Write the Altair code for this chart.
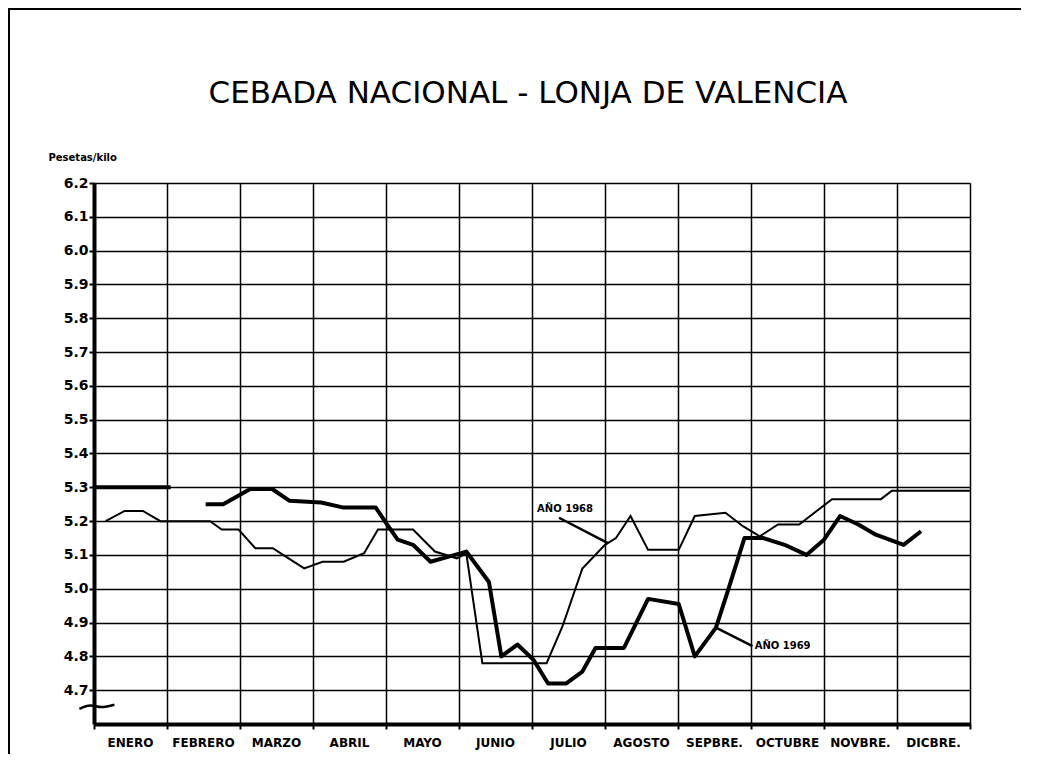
import altair as alt
import pandas as pd

months = ["ENERO", "FEBRERO", "MARZO", "ABRIL", "MAYO", "JUNIO", "JULIO",
          "AGOSTO", "SEPBRE.", "OCTUBRE", "NOVBRE.", "DICBRE."]

# x = position in months (0 = start of January, 12 = end of December)
t_1968 = [0.16, 0.42, 0.67, 0.91, 1.59, 1.75, 1.98, 2.21, 2.45, 2.59, 2.88,
          3.13, 3.42, 3.70, 3.89, 4.37, 4.67, 4.97, 5.10, 5.32, 6.20, 6.42,
          6.69, 7.00, 7.15, 7.35, 7.59, 8.01, 8.23, 8.65, 8.89, 9.12, 9.37,
          9.66, 10.11, 10.78, 10.93, 12.00]
v_1968 = [5.20, 5.23, 5.23, 5.20, 5.20, 5.175, 5.175, 5.12, 5.12, 5.10, 5.06,
          5.08, 5.08, 5.105, 5.175, 5.175, 5.11, 5.09, 5.105, 4.78, 4.78, 4.89,
          5.06, 5.13, 5.15, 5.215, 5.115, 5.115, 5.215, 5.225, 5.185, 5.155, 5.19,
          5.19, 5.265, 5.265, 5.29, 5.29]

t_1969_ene = [0.00, 1.05]
v_1969_ene = [5.30, 5.30]

t_1969 = [1.53, 1.77, 2.14, 2.44, 2.68, 3.11, 3.42, 3.86, 4.00, 4.16, 4.37,
          4.61, 4.86, 5.10, 5.41, 5.58, 5.80, 6.02, 6.22, 6.47, 6.69, 6.87,
          7.26, 7.59, 8.01, 8.23, 8.52, 8.67, 8.91, 9.17, 9.46, 9.76, 10.00,
          10.22, 10.47, 10.71, 11.09, 11.33]
v_1969 = [5.25, 5.25, 5.295, 5.295, 5.26, 5.255, 5.24, 5.24, 5.195, 5.145, 5.13,
          5.08, 5.095, 5.11, 5.02, 4.80, 4.835, 4.79, 4.72, 4.72, 4.755, 4.825,
          4.825, 4.97, 4.955, 4.80, 4.885, 4.985, 5.15, 5.15, 5.13, 5.10, 5.145,
          5.215, 5.19, 5.16, 5.13, 5.17]

y_ticks = [4.7, 4.8, 4.9, 5.0, 5.1, 5.2, 5.3, 5.4, 5.5, 5.6, 5.7, 5.8, 5.9,
           6.0, 6.1, 6.2]
month_bounds = list(range(13))

TITLE = "CEBADA NACIONAL - LONJA DE VALENCIA"
W, H = 876, 541
FONT = "DejaVu Sans"

xs = alt.Scale(domain=[0, 12], nice=False, zero=False)
ys = alt.Scale(domain=[4.6, 6.2], nice=False, zero=False)

x_axis = alt.Axis(values=month_bounds, labels=False, grid=True, gridColor="black",
                  gridWidth=1.5, gridOpacity=1, domainColor="black", domainWidth=4,
                  tickColor="black", tickWidth=2, tickSize=5, title=None)
y_axis = alt.Axis(values=y_ticks, format=".1f", grid=True, gridColor="black",
                  gridWidth=1.5, gridOpacity=1, domainColor="black", domainWidth=4,
                  tickColor="black", tickWidth=2, tickSize=5, labelFont=FONT,
                  labelFontWeight="bold", labelFontSize=14, labelColor="black",
                  labelPadding=1,
                  title="Pesetas/kilo", titleAngle=0, titleAlign="left",
                  titleBaseline="alphabetic", titleX=-46, titleY=-23,
                  titleFont=FONT, titleFontSize=10, titleFontWeight="bold",
                  titleColor="black")

X = alt.X("t:Q", scale=xs, axis=x_axis)
Y = alt.Y("v:Q", scale=ys, axis=y_axis)

df68 = pd.DataFrame({"t": t_1968, "v": v_1968})
df69a = pd.DataFrame({"t": t_1969_ene, "v": v_1969_ene})
df69 = pd.DataFrame({"t": t_1969, "v": v_1969})
dfm = pd.DataFrame({"t": [i + 0.5 for i in range(12)], "m": months})

line68 = alt.Chart(df68).mark_line(color="black", strokeWidth=2).encode(x=X, y=Y)
line69a = alt.Chart(df69a).mark_line(color="black", strokeWidth=4).encode(x=X, y=Y)
line69 = alt.Chart(df69).mark_line(color="black", strokeWidth=4,
                                   strokeJoin="round").encode(x=X, y=Y)

month_text = alt.Chart(dfm).mark_text(font=FONT, fontWeight="bold", fontSize=12,
                                      color="black", baseline="middle").encode(
    x=X, y=alt.value(H + 19), text="m:N")

# annotations
ann = pd.DataFrame({"t": [6.07, 9.05], "v": [5.236, 4.832],
                    "label": ["AÑO 1968", "AÑO 1969"]})
ann_text = alt.Chart(ann).mark_text(font=FONT, fontWeight="bold", fontSize=10,
                                    color="black", align="left",
                                    baseline="middle").encode(
    x=X, y=Y, text="label:N")
ptr = pd.DataFrame({"t": [6.37, 7.04, 8.52, 9.02],
                    "v": [5.21, 5.135, 4.885, 4.83],
                    "g": ["a", "a", "b", "b"]})
ptr_line = alt.Chart(ptr).mark_line(color="black", strokeWidth=2.5).encode(
    x=X, y=Y, detail="g:N")

# axis break squiggle
brk = pd.DataFrame({"t": [-0.20, -0.05, 0.10, 0.28],
                    "v": [4.645, 4.655, 4.650, 4.657]})
brk_line = alt.Chart(brk).mark_line(color="black", strokeWidth=2.5,
                                    interpolate="monotone").encode(x=X, y=Y)

# title as text
title_text = alt.Chart(pd.DataFrame({"s": [TITLE]})).mark_text(
    font=FONT, fontSize=31, color="black", align="center",
    baseline="alphabetic").encode(x=alt.value(W / 2 - 4), y=alt.value(-80),
                                  text="s:N")

# page frame (top and left)
frame_top = alt.Chart(pd.DataFrame({"k": [0]})).mark_rule(
    color="black", strokeWidth=2).encode(
    x=alt.value(-86), x2=alt.value(W + 60), y=alt.value(-174))
frame_left = alt.Chart(pd.DataFrame({"k": [0]})).mark_rule(
    color="black", strokeWidth=2).encode(
    x=alt.value(-85), y=alt.value(-174), y2=alt.value(H + 40))

chart = alt.layer(line68, line69a, line69, month_text, ann_text, ptr_line,
                  brk_line, title_text, frame_top, frame_left).properties(
    width=W, height=H,
    autosize=alt.AutoSizeParams(type="none"),
    padding={"left": 86, "top": 175, "right": 51, "bottom": 30},
).configure_view(stroke=None).configure(background="white")

chart.save("out.html", embed_options={"renderer": "svg", "actions": False})
